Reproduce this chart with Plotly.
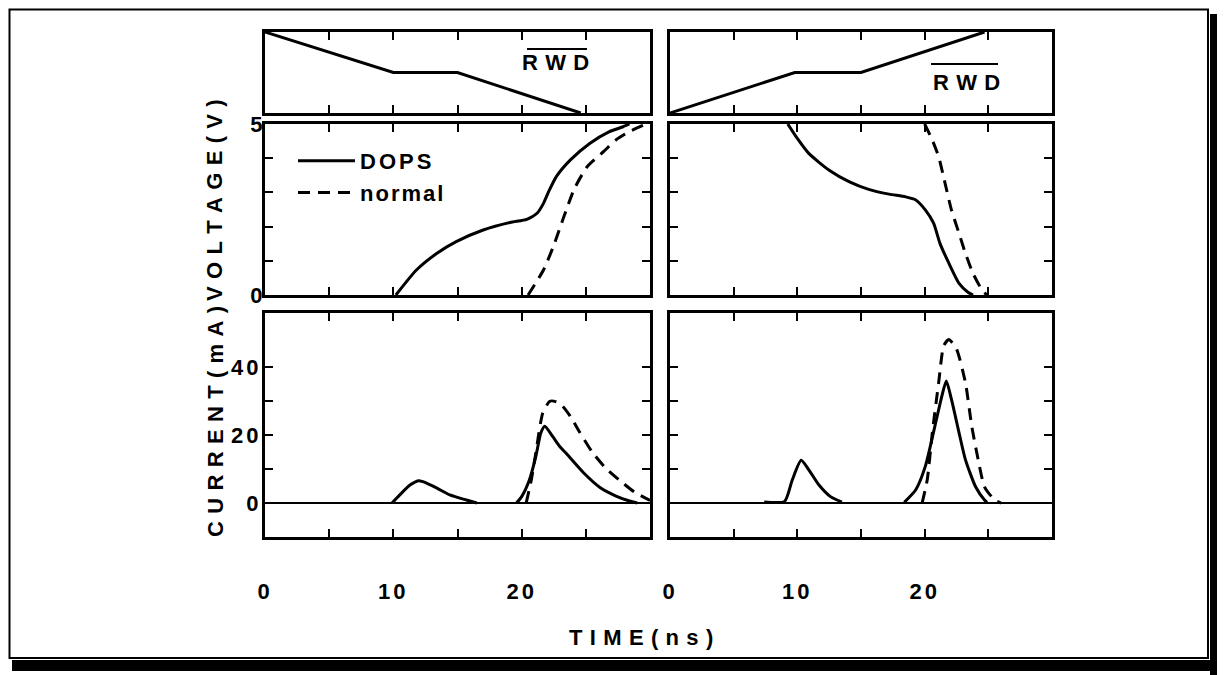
import plotly.graph_objects as go

# ---------------- data ----------------
# top panels: RWD-bar control waveform (normalized level)
rwd_left_t = [0, 10, 15, 24.6]
rwd_left_v = [1, 0.5, 0.5, 0]
rwd_right_t = [0, 9.8, 15, 24.7]
rwd_right_v = [0, 0.5, 0.5, 1]

# middle panels: voltage (V)
volt_left_dops_t = [10.2, 11.8, 13.4, 14.9, 17.0, 19.1, 20.4, 21.2, 21.7, 22.1, 22.7, 23.8, 25.3, 26.8, 27.9, 28.4]
volt_left_dops_v = [0, 0.73, 1.22, 1.56, 1.9, 2.12, 2.21, 2.39, 2.68, 3.02, 3.46, 3.95, 4.43, 4.77, 4.92, 5.0]
volt_left_norm_t = [20.5, 21.7, 22.5, 23.3, 24.1, 25.1, 26.4, 27.4, 28.4, 29.5]
volt_left_norm_v = [0, 0.73, 1.45, 2.3, 3.1, 3.75, 4.2, 4.55, 4.78, 4.97]

volt_right_dops_t = [9.25, 9.9, 10.9, 12.5, 14.1, 15.6, 17.2, 18.5, 19.3, 20.05, 20.7, 21.2, 21.9, 22.7, 23.4, 23.8]
volt_right_dops_v = [5.0, 4.63, 4.14, 3.65, 3.31, 3.09, 2.95, 2.87, 2.78, 2.49, 2.1, 1.51, 0.93, 0.34, 0.08, 0]
volt_right_norm_t = [20.0, 20.6, 21.1, 21.6, 22.1, 22.7, 23.2, 23.8, 24.5, 24.9]
volt_right_norm_v = [5.0, 4.53, 4.04, 3.27, 2.49, 1.8, 1.22, 0.63, 0.15, 0]

# bottom panels: current (mA); None separates pulses
curr_left_dops_t = [9.9, 10.5, 11.3, 11.95, 12.3, 13.4, 14.4, 15.7, 16.5, None,
                    19.6, 20.0, 20.6, 21.1, 21.5, 21.8, 22.4, 23.0, 23.5, 24.8, 26.1, 27.4, 28.4, 29.0]
curr_left_dops_i = [0, 2.4, 5.3, 6.6, 6.3, 4.4, 2.4, 0.9, 0, None,
                    0, 1.9, 6.8, 13.7, 20.7, 22.6, 19.7, 16.5, 14.5, 9.0, 4.6, 2.0, 0.6, 0]
curr_left_norm_t = [20.35, 20.75, 21.1, 21.65, 22.2, 22.7, 23.2, 23.8, 24.5, 25.5, 26.5, 27.6, 28.8, 30.0]
curr_left_norm_i = [0, 6.8, 14.7, 26.6, 30.0, 29.8, 28.5, 25.5, 21.0, 15.0, 10.5, 6.8, 3.2, 0.8]

curr_right_dops_t = [7.4, 9.0, 9.6, 10.3, 10.9, 11.7, 12.6, 13.5, None,
                     18.4, 19.3, 20.05, 20.8, 21.35, 21.7, 22.1, 22.7, 23.2, 24.0, 24.7, 24.9]
curr_right_dops_i = [0.3, 0.5, 6.8, 12.6, 9.8, 5.3, 1.9, 0.3, None,
                     0.2, 3.9, 10.8, 22.6, 31.5, 36.0, 30.6, 20.7, 12.8, 4.8, 0.9, 0.2]
curr_right_norm_t = [19.8, 20.2, 20.6, 21.1, 21.5, 21.9, 22.5, 23.2, 23.7, 24.2, 24.7, 25.5, 26.0]
curr_right_norm_i = [0, 6.8, 20.7, 35.5, 46.4, 48.2, 45.4, 35.5, 22.6, 12.8, 4.8, 0.9, 0]

# tick labels
time_ticks = [0, 5, 10, 15, 20, 25]
time_labels = ["0", "", "10", "", "20", ""]
volt_ticks = [0, 1, 2, 3, 4, 5]
volt_labels = ["0", "", "", "", "", "5"]
curr_ticks = [0, 10, 20, 30, 40]
curr_labels = ["0", "", "20", "", "40"]

# ---------------- layout helpers ----------------
OFF = 8  # page body margin offset of the plot div
W, H = 1225 - OFF, 675 - OFF
def fx(p):
    return (p - OFF) / W
def fy(p):
    return 1 - (p - OFF) / H

FONT = "Liberation Sans, Arial, sans-serif"
SP = "\u2004"  # three-per-em space used as letter spacing
def spaced(text, gap=SP):
    return gap.join(list(text))
def sp(text, ls):
    return f'<span style="letter-spacing:{ls}px">{text}</span>'

colL = [fx(265), fx(650)]
colR = [fx(670), fx(1052)]
rowT = [fy(113), fy(32)]
rowM = [fy(295), fy(124)]
rowB = [fy(537), fy(313)]

tickfont = dict(family=FONT, size=22, color="black", weight="bold")
base = dict(showline=True, linewidth=3, linecolor="black", mirror="ticks",
            ticks="inside", ticklen=8, tickwidth=2, tickcolor="black",
            showgrid=False, zeroline=False, tickfont=tickfont, fixedrange=True,
            automargin=False)

solid = dict(color="black", width=3, shape="spline", smoothing=0.6)
dashed = dict(color="black", width=3, dash="12px,8px", shape="spline", smoothing=0.6)

fig = go.Figure()
# top
fig.add_trace(go.Scatter(x=rwd_left_t, y=rwd_left_v, mode="lines", line=dict(color="black", width=3),
                         xaxis="x", yaxis="y", showlegend=False))
fig.add_trace(go.Scatter(x=rwd_right_t, y=rwd_right_v, mode="lines", line=dict(color="black", width=3),
                         xaxis="x2", yaxis="y2", showlegend=False))
# middle
fig.add_trace(go.Scatter(x=volt_left_dops_t, y=volt_left_dops_v, mode="lines", line=solid,
                         xaxis="x3", yaxis="y3", name=sp("DOPS", 3), showlegend=True))
fig.add_trace(go.Scatter(x=volt_left_norm_t, y=volt_left_norm_v, mode="lines", line=dashed,
                         xaxis="x3", yaxis="y3", name=sp("normal", 2), showlegend=True))
fig.add_trace(go.Scatter(x=volt_right_dops_t, y=volt_right_dops_v, mode="lines", line=solid,
                         xaxis="x4", yaxis="y4", showlegend=False))
fig.add_trace(go.Scatter(x=volt_right_norm_t, y=volt_right_norm_v, mode="lines", line=dashed,
                         xaxis="x4", yaxis="y4", showlegend=False))
# bottom
fig.add_trace(go.Scatter(x=curr_left_dops_t, y=curr_left_dops_i, mode="lines", line=solid,
                         connectgaps=False, xaxis="x5", yaxis="y5", showlegend=False))
fig.add_trace(go.Scatter(x=curr_left_norm_t, y=curr_left_norm_i, mode="lines", line=dashed,
                         xaxis="x5", yaxis="y5", showlegend=False))
fig.add_trace(go.Scatter(x=curr_right_dops_t, y=curr_right_dops_i, mode="lines", line=solid,
                         connectgaps=False, xaxis="x6", yaxis="y6", showlegend=False))
fig.add_trace(go.Scatter(x=curr_right_norm_t, y=curr_right_norm_i, mode="lines", line=dashed,
                         xaxis="x6", yaxis="y6", showlegend=False))

xr = [0, 30]
xt_nolab = dict(tickvals=time_ticks[1:], showticklabels=False)
xt_lab = dict(tickvals=time_ticks, ticktext=[sp(t, 3) for t in time_labels], ticklabelstandoff=33)

fig.update_layout(
    template="none",
    width=W, height=H, autosize=False,
    margin=dict(l=0, r=0, t=0, b=0, pad=0, autoexpand=False),
    paper_bgcolor="white", plot_bgcolor="white",
    font=dict(family=FONT, color="black"),
    xaxis=dict(base, domain=colL, range=xr, anchor="y", **xt_nolab),
    yaxis=dict(base, domain=rowT, range=[0, 1], anchor="x", ticks="", showticklabels=False),
    xaxis2=dict(base, domain=colR, range=xr, anchor="y2", **xt_nolab),
    yaxis2=dict(base, domain=rowT, range=[0, 1], anchor="x2", ticks="", showticklabels=False),
    xaxis3=dict(base, domain=colL, range=xr, anchor="y3", **xt_nolab),
    yaxis3=dict(base, domain=rowM, range=[0, 5], anchor="x3", tickvals=volt_ticks, ticktext=volt_labels,
                ticklabelstandoff=-5),
    xaxis4=dict(base, domain=colR, range=xr, anchor="y4", **xt_nolab),
    yaxis4=dict(base, domain=rowM, range=[0, 5], anchor="x4", tickvals=volt_ticks, showticklabels=False),
    xaxis5=dict(base, domain=colL, range=xr, anchor="y5", **xt_lab),
    yaxis5=dict(base, domain=rowB, range=[-10, 56], anchor="x5", tickvals=curr_ticks,
                ticktext=[sp(t, 3) for t in curr_labels], ticklabelstandoff=-4,
                zeroline=True, zerolinewidth=1.5, zerolinecolor="black"),
    xaxis6=dict(base, domain=colR, range=xr, anchor="y6", **xt_lab),
    yaxis6=dict(base, domain=rowB, range=[-10, 56], anchor="x6", tickvals=curr_ticks, showticklabels=False,
                zeroline=True, zerolinewidth=1.5, zerolinecolor="black"),
    legend=dict(x=fx(293), y=fy(140), xanchor="left", yanchor="top", bgcolor="rgba(0,0,0,0)",
                font=dict(family=FONT, size=22, color="black", weight="bold"),
                itemwidth=57, tracegroupgap=0),
)

# frame with drop shadow
fig.add_shape(type="rect", xref="paper", yref="paper", x0=fx(1210), x1=fx(1225), y0=fy(675), y1=fy(14),
              fillcolor="black", line=dict(width=0), layer="below")
fig.add_shape(type="rect", xref="paper", yref="paper", x0=fx(12), x1=fx(1225), y0=fy(671), y1=fy(660),
              fillcolor="black", line=dict(width=0), layer="below")
fig.add_shape(type="rect", xref="paper", yref="paper", x0=fx(9.5), x1=fx(1208), y0=fy(658), y1=fy(9.5),
              fillcolor="white", line=dict(color="black", width=2), layer="below")

# RWD labels with overline
lblfont = dict(family=FONT, size=22, color="black", weight="bold")
ann = dict(xref="paper", yref="paper", showarrow=False, font=lblfont, xanchor="center", yanchor="middle")
fig.add_annotation(x=fx(555), y=fy(63), text=spaced("RWD"), **ann)
fig.add_shape(type="line", xref="paper", yref="paper", x0=fx(527), x1=fx(587), y0=fy(49), y1=fy(49),
              line=dict(color="black", width=2))
fig.add_annotation(x=fx(966), y=fy(82), text=spaced("RWD"), **ann)
fig.add_shape(type="line", xref="paper", yref="paper", x0=fx(931), x1=fx(998), y0=fy(64), y1=fy(64),
              line=dict(color="black", width=2))

# axis titles
fig.add_annotation(x=fx(215), y=fy(200), text=spaced("VOLTAGE(V)"), textangle=-90, **ann)
fig.add_annotation(x=fx(215), y=fy(422), text=spaced("CURRENT(mA)"), textangle=-90, **ann)
fig.add_annotation(x=fx(641), y=fy(637), text=spaced("TIME(ns)"), **ann)

fig.write_html("out.html")
